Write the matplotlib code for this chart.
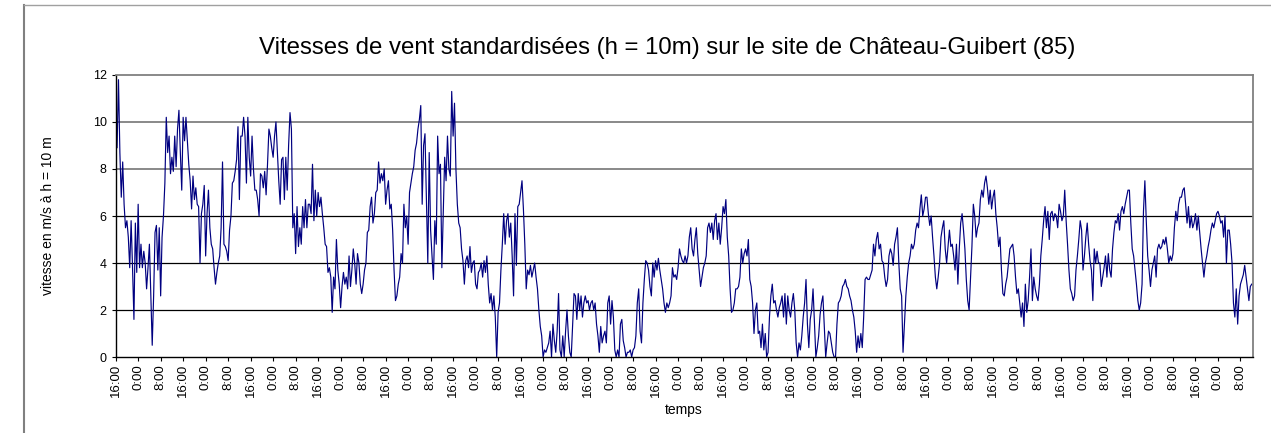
import matplotlib.pyplot as plt
from matplotlib.lines import Line2D
import numpy as np

plt.rcParams['font.family'] = ['Liberation Sans', 'DejaVu Sans']

# Vitesse standardisée (m/s à h = 10 m), pas de 30 min, début à 16:00
vitesse = [
    # h 0 - 57.5
    9.8, 8.9, 11.8, 8.7, 6.8, 8.3, 6.5, 5.5, 5.8, 5.1,
    3.8, 5.8, 3.8, 1.6, 5.7, 3.6, 6.5, 3.8, 4.8, 3.8,
    4.5, 4.0, 2.9, 3.8, 4.8, 2.6, 0.5, 2.6, 5.3, 5.6,
    3.7, 5.5, 2.6, 5.1, 6.0, 7.4, 10.2, 8.7, 9.4, 7.8,
    8.5, 7.9, 9.4, 8.1, 9.7, 10.5, 8.7, 7.1, 10.2, 9.2,
    10.2, 9.2, 8.2, 7.5, 6.3, 7.7, 6.7, 7.2, 6.5, 6.4,
    4.0, 6.1, 6.5, 7.3, 4.3, 6.1, 7.1, 5.5, 4.8, 4.6,
    3.8, 3.1, 3.6, 4.0, 4.3, 5.5, 8.3, 4.8, 4.7, 4.5,
    4.1, 5.4, 6.0, 7.4, 7.5, 7.9, 8.4, 9.8, 6.7, 9.4,
    9.4, 10.2, 9.4, 7.4, 10.2, 8.5, 7.7, 9.4, 8.0, 7.1,
    7.1, 6.7, 6.0, 7.8, 7.7, 7.2, 7.9, 6.9, 8.2, 9.7,
    9.4, 8.9, 8.5, 9.4, 10.0, 8.7,
    # h 58 - 115.5
    7.5, 6.5, 8.4, 8.5, 6.7, 8.5, 7.1, 9.0, 10.4, 9.7,
    5.5, 6.1, 4.4, 6.4, 4.7, 5.5, 4.8, 6.4, 5.5, 6.7,
    5.5, 6.5, 6.5, 6.1, 8.2, 5.8, 7.1, 6.0, 7.0, 6.4,
    6.8, 6.1, 5.5, 4.8, 4.7, 3.6, 3.8, 3.4, 1.9, 3.4,
    2.9, 5.0, 3.7, 3.1, 2.1, 3.0, 3.6, 3.1, 3.4, 2.9,
    4.3, 3.0, 3.7, 4.6, 4.0, 3.1, 4.4, 4.0, 3.1, 2.7,
    3.1, 3.7, 4.0, 5.3, 5.4, 6.4, 6.8, 5.7, 6.1, 7.0,
    7.1, 8.3, 7.4, 7.8, 7.5, 8.0, 6.5, 7.1, 7.5, 6.3,
    6.5, 5.4, 3.7, 2.4, 2.6, 3.1, 3.4, 4.4, 4.0, 6.5,
    5.5, 6.0, 4.8, 7.0, 7.4, 7.8, 8.1, 8.8, 9.1, 9.7,
    10.1, 10.7, 6.5, 9.0, 9.5, 6.8, 4.0, 8.7, 5.4, 4.3,
    3.3, 5.8, 4.8, 9.4, 7.8, 8.2,
    # h 116 - 173.5
    3.8, 6.1, 8.5, 7.5, 9.4, 8.0, 7.7, 11.3, 9.4, 10.8,
    8.0, 6.5, 5.7, 5.5, 4.6, 4.1, 3.1, 4.1, 4.3, 3.8,
    4.7, 3.6, 4.0, 4.1, 3.1, 2.9, 3.6, 3.7, 4.0, 3.4,
    4.1, 3.6, 4.3, 3.1, 2.3, 2.7, 2.0, 2.6, 1.7, 0.0,
    1.9, 2.3, 3.7, 4.8, 6.1, 4.8, 5.8, 6.1, 5.1, 5.7,
    4.3, 2.6, 6.1, 3.9, 6.4, 6.5, 7.0, 7.5, 6.3, 4.8,
    2.9, 3.7, 3.5, 3.9, 3.4, 3.7, 4.0, 3.4, 2.9, 2.0,
    1.3, 0.9, 0.0, 0.3, 0.2, 0.4, 0.6, 1.1, 0.0, 1.4,
    0.7, 0.2, 1.1, 2.7, 0.3, 0.0, 0.9, 0.0, 1.1, 2.0,
    0.9, 0.2, 0.0, 1.4, 2.7, 2.6, 1.6, 2.7, 2.0, 2.6,
    1.7, 2.3, 2.6, 2.3, 2.4, 2.0, 2.3, 2.4, 2.0, 2.3,
    1.4, 0.9, 0.2, 1.3, 0.6, 0.9,
    # h 174 - 231.5
    1.1, 0.6, 2.3, 2.6, 1.4, 2.4, 1.7, 0.3, 0.0, 0.3,
    0.0, 1.4, 1.6, 0.7, 0.4, 0.0, 0.2, 0.2, 0.3, 0.0,
    0.3, 0.4, 0.9, 2.3, 2.9, 1.1, 0.6, 2.3, 3.3, 4.1,
    4.0, 3.7, 3.0, 2.6, 4.0, 3.4, 4.1, 3.7, 4.2, 3.7,
    3.3, 2.9, 2.3, 1.9, 2.3, 2.1, 2.3, 2.6, 3.8, 3.4,
    3.5, 3.3, 3.8, 4.6, 4.3, 4.1, 4.0, 4.3, 4.0, 4.3,
    5.1, 5.5, 4.6, 4.3, 5.0, 5.5, 4.4, 3.7, 3.0, 3.4,
    3.8, 4.0, 4.3, 5.5, 5.7, 5.3, 5.7, 5.0, 5.8, 6.1,
    5.0, 5.7, 4.8, 5.5, 6.4, 6.1, 6.7, 5.1, 4.3, 2.9,
    1.9, 2.0, 2.3, 2.9, 2.9, 3.0, 3.4, 4.6, 4.0, 4.4,
    4.6, 4.3, 5.0, 3.3, 3.0, 2.3, 1.0, 2.0, 2.3, 1.0,
    1.1, 0.4, 1.4, 0.3, 1.0, 0.0,
    # h 232 - 289.5
    0.2, 1.7, 2.6, 3.1, 2.3, 2.4, 2.0, 1.7, 2.1, 2.3,
    2.6, 1.7, 2.7, 1.4, 2.6, 2.0, 1.7, 2.3, 2.7, 2.0,
    0.6, 0.0, 0.6, 0.3, 0.9, 1.7, 2.3, 3.3, 1.4, 0.4,
    1.6, 2.0, 2.9, 1.4, 0.0, 0.4, 0.9, 1.8, 2.3, 2.6,
    1.3, 0.0, 0.6, 1.1, 1.0, 0.6, 0.2, 0.0, 0.0, 1.4,
    2.3, 2.4, 2.6, 3.0, 3.1, 3.3, 3.0, 2.9, 2.6, 2.4,
    2.0, 1.7, 1.1, 0.2, 0.9, 0.4, 1.0, 0.4, 1.7, 3.3,
    3.4, 3.3, 3.3, 3.5, 3.7, 4.8, 4.3, 5.0, 5.3, 4.6,
    4.8, 4.1, 4.0, 3.4, 3.0, 3.3, 4.3, 4.6, 4.4, 3.9,
    4.8, 5.1, 5.5, 4.0, 2.9, 2.6, 0.2, 1.4, 2.6, 3.4,
    4.0, 4.3, 4.8, 4.6, 4.8, 5.4, 5.7, 5.5, 6.3, 6.9,
    6.0, 6.3, 6.8, 6.8, 6.1, 5.6,
    # h 290 - 347.5
    6.0, 5.1, 4.3, 3.4, 2.9, 3.4, 4.0, 5.1, 5.5, 5.8,
    4.6, 4.0, 4.7, 5.4, 4.7, 4.8, 4.3, 3.7, 4.8, 3.1,
    4.6, 5.7, 6.1, 5.4, 4.6, 3.3, 2.4, 2.0, 3.4, 4.7,
    6.5, 6.0, 5.1, 5.5, 5.7, 6.7, 7.1, 6.8, 7.4, 7.7,
    7.2, 6.5, 7.1, 6.3, 6.8, 7.1, 6.1, 5.5, 4.7, 5.1,
    3.7, 2.7, 2.6, 3.1, 3.4, 4.0, 4.6, 4.7, 4.8, 4.3,
    3.4, 2.7, 2.9, 2.3, 1.7, 2.3, 1.3, 3.1, 1.9, 2.4,
    3.4, 4.6, 2.4, 3.4, 2.9, 2.6, 2.4, 3.1, 4.3, 5.0,
    5.8, 6.4, 5.5, 6.2, 5.0, 6.1, 6.2, 5.8, 6.1, 6.0,
    5.5, 6.5, 6.2, 5.8, 6.0, 7.1, 5.8, 4.8, 3.7, 2.9,
    2.7, 2.4, 2.6, 3.7, 4.3, 5.0, 5.8, 5.4, 3.7, 4.3,
    5.1, 5.7, 4.8, 4.1, 3.7, 2.4,
    # h 348 - 404
    4.6, 4.0, 4.5, 4.0, 4.0, 3.0, 3.4, 3.8, 4.3, 3.4,
    4.4, 3.7, 3.4, 4.6, 5.3, 5.8, 5.7, 6.1, 5.4, 6.2,
    6.4, 6.1, 6.5, 6.8, 7.1, 7.1, 5.7, 4.6, 4.3, 3.7,
    3.1, 2.4, 2.0, 2.3, 3.1, 6.2, 7.5, 5.8, 4.3, 3.7,
    3.0, 3.7, 4.0, 4.3, 3.4, 4.6, 4.8, 4.6, 4.7, 5.0,
    4.8, 5.1, 4.6, 4.0, 4.3, 4.1, 4.4, 5.5, 6.2, 5.8,
    6.5, 6.8, 6.8, 7.1, 7.2, 6.5, 5.7, 6.4, 5.5, 6.0,
    5.5, 5.7, 6.1, 5.4, 6.0, 5.3, 4.6, 4.0, 3.4, 4.0,
    4.3, 4.7, 5.0, 5.4, 5.7, 5.5, 5.8, 6.1, 6.2, 6.0,
    5.7, 5.8, 5.1, 6.0, 4.0, 5.4, 5.4, 4.8, 4.0, 2.3,
    1.7, 2.9, 1.4, 2.6, 3.1, 3.3, 3.5, 3.9, 3.4, 2.9,
    2.4, 3.0, 3.1,
]
pas = 0.5            # heures entre deux mesures
heure_debut = 16
pas_etiquette = 8    # une étiquette toutes les 8 h

heures = np.arange(len(vitesse)) * pas
duree = heures[-1]
ticks = np.arange(0, duree + pas, pas_etiquette)
etiquettes = ["%d:00" % ((heure_debut + t) % 24) for t in ticks]

fig = plt.figure(figsize=(12.71, 4.33), dpi=100)
ax = fig.add_axes([0.091, 0.1755, 0.8945, 0.6513])

# cadre de la zone graphique
fig.add_artist(Line2D([0.0189, 0.0189], [0.0, 0.988], color="#808080", lw=1.5))
fig.add_artist(Line2D([0.0189, 1.0], [0.988, 0.988], color="#a0a0a0", lw=1.0))

for y in [2, 4, 6]:
    ax.axhline(y, color="black", lw=0.9, zorder=1)
for y in [8, 10]:
    ax.axhline(y, color="#808080", lw=1.3, zorder=1)

ax.plot(heures, vitesse, color="#000080", lw=0.85, zorder=2)

ax.set_xlim(0, duree + 0.3)
ax.set_ylim(0, 12)
ax.set_yticks(range(0, 13, 2))
ax.set_xticks(ticks)
ax.set_xticklabels(etiquettes, rotation=90, fontsize=9.5)
ax.tick_params(axis="y", labelsize=9, length=3, width=0.8)
ax.tick_params(axis="x", length=3, width=0.8, pad=2)

ax.spines["top"].set_color("#808080")
ax.spines["right"].set_color("#808080")
ax.spines["top"].set_linewidth(1.3)
ax.spines["right"].set_linewidth(1.3)
ax.spines["left"].set_linewidth(1.0)
ax.spines["bottom"].set_linewidth(1.0)

ax.set_title("Vitesses de vent standardisées (h = 10m) sur le site de Château-Guibert (85)",
             fontsize=17.3, pad=15, x=0.485)
ax.set_xlabel("temps", fontsize=10, labelpad=4)
ax.set_ylabel("vitesse en m/s à h = 10 m", fontsize=10, labelpad=27)

plt.savefig("out.png", dpi=100)
